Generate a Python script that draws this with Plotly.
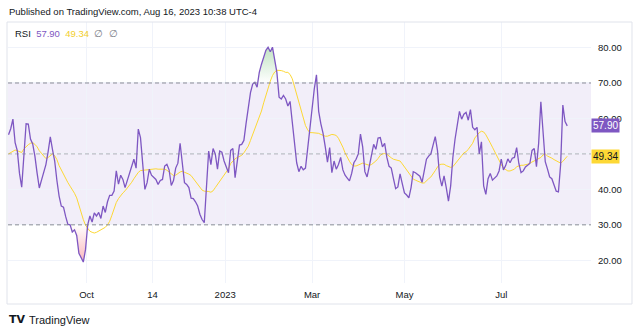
import plotly.graph_objects as go

# ---------------- data ----------------
RSI = [
    55.4, 57.1, 59.8, 53.2, 50.9, 44.5, 40.6, 50.8, 58.5, 58.4,
    54.2, 52.8, 49.4, 44.6, 40.4, 42.6, 45.1, 47.0, 50.6, 54.8,
    51.2, 48.0, 42.5, 38.1, 35.3, 35.0, 32.3, 30.1, 30.0, 28.0,
    28.6, 27.0, 22.0, 20.6, 19.5, 23.0, 30.0, 32.5, 30.8, 33.4,
    32.5, 33.5, 31.8, 35.3, 33.5, 36.5, 38.3, 38.3, 39.5, 45.2,
    41.5, 44.0, 42.8, 40.5, 42.5, 44.0, 45.8, 48.5, 46.0, 57.0,
    54.6, 46.5, 40.0, 41.9, 45.7, 44.0, 43.5, 42.8, 41.4, 42.5,
    42.8, 46.6, 47.1, 45.5, 41.1, 42.5, 46.0, 47.4, 53.0, 46.4,
    41.9, 41.4, 40.5, 37.5, 37.4, 36.5, 35.3, 33.0, 31.5, 30.6,
    42.0, 50.8, 47.0, 51.5, 50.0, 45.7, 50.8, 50.5, 48.0, 46.2,
    44.7, 51.0, 51.5, 43.3, 48.5, 52.5, 52.7, 53.8, 58.6, 63.0,
    67.3, 69.7, 70.2, 68.8, 73.0, 75.3, 77.2, 79.2, 80.1, 78.8,
    80.1, 76.5, 73.0, 66.0, 65.5, 66.5, 65.5, 63.5, 64.8, 59.0,
    52.5, 47.5, 45.0, 46.5, 45.5, 46.0, 51.5, 57.5, 63.0, 68.3,
    72.3, 62.0, 58.5, 55.8, 52.0, 47.7, 51.8, 44.7, 48.0, 45.7,
    47.0, 49.0, 45.5, 44.0, 43.2, 42.4, 44.5, 47.5, 48.5, 50.0,
    55.6, 52.0, 45.0, 43.5, 46.5, 49.5, 52.7, 51.3, 54.5, 54.6,
    52.0, 53.0, 49.0, 46.5, 46.0, 43.0, 40.2, 40.7, 44.4, 41.6,
    39.0, 38.4, 37.6, 40.5, 45.0, 44.7, 44.2, 43.7, 42.0, 45.5,
    48.5, 49.4, 50.0, 52.5, 54.9, 51.0, 43.5, 40.9, 43.8, 40.5,
    36.7, 41.0, 49.0, 54.2, 58.5, 62.0, 59.8, 61.2, 61.7, 59.5,
    62.5, 57.5, 56.8, 57.5, 50.0, 53.4, 41.0, 38.6, 43.0, 44.5,
    42.6, 43.2, 43.8, 45.2, 48.5, 45.5, 46.7, 48.6, 47.5, 48.8,
    49.0, 51.8, 47.3, 44.7, 45.2, 46.3, 46.7, 47.3, 51.0, 51.5,
    46.4, 53.0, 64.7, 56.0, 47.8, 45.8, 43.5, 43.0, 41.5, 39.5,
    39.3, 47.0, 63.8, 59.1, 57.9,
]

RSI_MA = [
    50.0, 50.4, 50.8, 51.1, 50.9, 50.6, 50.4, 51.4, 52.1, 52.6,
    53.0, 53.2, 52.7, 52.0, 50.9, 50.1, 49.3, 48.7, 49.0, 49.5,
    50.0, 49.5, 48.4, 46.7, 45.4, 44.1, 42.9, 41.9, 40.9, 40.0,
    38.9, 37.6, 35.4, 33.1, 31.5, 29.9, 28.9, 28.2, 27.9, 27.7,
    27.9, 28.3, 28.6, 29.0, 29.3, 30.0, 31.0, 32.7, 34.8, 36.3,
    37.4, 38.3, 39.0, 39.6, 40.3, 41.1, 42.0, 43.0, 43.9, 44.8,
    45.3, 45.4, 45.5, 45.6, 45.7, 45.8, 45.8, 45.8, 45.7, 45.7,
    45.7, 45.7, 45.4, 44.9, 44.2, 43.9, 44.0, 44.5, 44.9, 45.1,
    44.9, 44.6, 44.3, 43.9, 43.1, 42.3, 41.4, 40.5, 39.8, 39.5,
    39.5, 39.4, 39.2, 39.6, 40.5, 41.4, 42.3, 43.1, 44.0, 44.7,
    45.8, 47.3, 48.1, 48.6, 49.0, 49.2, 49.6, 50.3, 51.1, 52.2,
    53.8, 55.4, 56.9, 58.5, 60.3, 62.1, 64.4, 66.6, 68.7, 70.5,
    72.1, 73.1, 73.6, 73.6, 73.5, 73.3, 73.0, 73.0, 72.4, 71.2,
    68.9, 66.5, 64.3, 62.0, 59.9, 58.0, 56.8, 56.0, 56.0, 56.0,
    56.0, 55.8, 55.5, 55.2, 55.0, 55.0, 55.3, 55.5, 55.4, 55.2,
    54.4, 53.2, 51.9, 50.3, 49.0, 47.9, 47.0, 46.6, 46.6, 46.9,
    47.3, 47.4, 47.2, 47.0, 46.8, 47.0, 47.4, 48.0, 48.7, 49.6,
    50.0, 50.1, 49.9, 49.3, 48.9, 48.5, 48.4, 48.2, 48.0, 47.2,
    46.3, 45.3, 44.4, 43.6, 42.9, 42.6, 42.3, 42.0, 41.8, 41.8,
    42.5, 43.0, 43.5, 44.3, 45.3, 46.3, 47.0, 47.1, 47.1, 46.7,
    46.4, 46.2, 46.4, 47.1, 47.8, 48.7, 49.5, 50.3, 50.6, 51.3,
    52.3, 53.0, 54.5, 55.4, 56.0, 56.4, 56.2, 55.4, 54.4, 53.1,
    51.9, 50.6, 49.4, 48.4, 47.0, 46.0, 45.5, 45.2, 45.2, 45.4,
    45.7, 46.4, 46.7, 46.8, 46.8, 46.9, 47.1, 47.4, 47.7, 48.0,
    48.2, 48.5, 49.0, 49.7, 50.0, 49.4, 49.2, 48.8, 48.4, 48.0,
    47.6, 47.4, 47.9, 48.6, 49.34,
]

DAYS = list(range(len(RSI)))                 # trading-day index
TICK_DAYS = [35.5, 65.5, 98.5, 138, 180, 224]
TICK_LABELS = ["Oct", "14", "2023", "Mar", "May", "Jul"]
Y_TICKS = [20, 30, 40, 50, 60, 70, 80]
Y_HIDDEN = [50]                              # label covered by the MA value tag
UPPER, MIDDLE, LOWER = 70, 50, 30
LAST_RSI, LAST_MA = "57.90", "49.34"

# ---------------- styles ----------------
PURPLE = "#7e57c2"
YELLOW = "#fdd835"
TEXT = "#131722"
GRID = "#f0f3fa"
FONT = "Liberation Sans, Arial, sans-serif"


def clipped(values, level, above):
    """Polygon edge of the part of the series beyond a level (with crossing points)."""
    xs, ys = [], []
    for i, v in enumerate(values):
        if i > 0:
            p = values[i - 1]
            if (p - level) * (v - level) < 0:
                t = (level - p) / (v - p)
                xs.append(DAYS[i - 1] + t)
                ys.append(level)
        xs.append(DAYS[i])
        ys.append(max(v, level) if above else min(v, level))
    return xs, ys


fig = go.Figure()

# overbought fill
ox, oy = clipped(RSI, UPPER, True)
fig.add_trace(go.Scatter(x=ox, y=[UPPER] * len(ox), mode="lines",
                         line=dict(width=0), hoverinfo="skip", showlegend=False))
fig.add_trace(go.Scatter(
    x=ox, y=oy, mode="lines", line=dict(width=0), fill="tonexty",
    fillgradient=dict(type="vertical", start=UPPER, stop=81,
                      colorscale=[[0, "rgba(76,175,80,0)"], [1, "rgba(76,175,80,0.38)"]]),
    hoverinfo="skip", showlegend=False))

# oversold fill
ux, uy = clipped(RSI, LOWER, False)
fig.add_trace(go.Scatter(x=ux, y=[LOWER] * len(ux), mode="lines",
                         line=dict(width=0), hoverinfo="skip", showlegend=False))
fig.add_trace(go.Scatter(
    x=ux, y=uy, mode="lines", line=dict(width=0), fill="tonexty",
    fillgradient=dict(type="vertical", start=19, stop=LOWER,
                      colorscale=[[0, "rgba(242,54,69,0.38)"], [1, "rgba(242,54,69,0)"]]),
    hoverinfo="skip", showlegend=False))

# MA line and RSI line
fig.add_trace(go.Scatter(x=DAYS, y=RSI_MA, mode="lines",
                         line=dict(color=YELLOW, width=1), showlegend=False))
fig.add_trace(go.Scatter(x=DAYS, y=RSI, mode="lines",
                         line=dict(color=PURPLE, width=1.3), showlegend=False))

# band + level lines
fig.add_shape(type="rect", xref="paper", x0=0, x1=1, y0=LOWER, y1=UPPER,
              fillcolor="rgba(126,87,194,0.1)", line=dict(width=0), layer="below")
for lvl, col in [(UPPER, "#8a8d96"), (LOWER, "#8a8d96"), (MIDDLE, "rgba(120,123,134,0.55)")]:
    fig.add_shape(type="line", xref="paper", x0=0, x1=1, y0=lvl, y1=lvl,
                  line=dict(color=col, width=1, dash="4px,3px"), layer="above")

# frame
fig.add_shape(type="rect", xref="paper", yref="paper",
              x0=-0.0017, x1=1.0703, y0=-0.0805, y1=1.0,
              line=dict(color="#e0e3eb", width=1), fillcolor="rgba(0,0,0,0)")

ann = []
ann.append(dict(text="Published on TradingView.com, Aug 16, 2023 10:38 UTC-4",
                xref="paper", yref="paper", x=-0.0017, y=1.0, yshift=11,
                xanchor="left", yanchor="middle", showarrow=False,
                font=dict(size=9.5, color=TEXT, family=FONT)))
legend_html = (f"RSI  <span style='color:{PURPLE}'>{LAST_RSI}</span>  "
               f"<span style='color:#f2cf2c'>{LAST_MA}</span>  "
               f"<span style='color:#787b86'>∅  ∅</span>")
ann.append(dict(text=legend_html, xref="paper", yref="paper", x=0.0086, y=1.0,
                yshift=-11, xanchor="left", yanchor="middle", showarrow=False,
                font=dict(size=9.5, color=TEXT, family=FONT)))
ann.append(dict(text=LAST_RSI, xref="paper", yref="y", x=1.0, y=float(LAST_RSI),
                xanchor="left", yanchor="middle", showarrow=False, bgcolor=PURPLE,
                borderpad=1, font=dict(size=10, color="white", family=FONT)))
ann.append(dict(text=LAST_MA, xref="paper", yref="y", x=1.0, y=float(LAST_MA),
                xanchor="left", yanchor="middle", showarrow=False, bgcolor=YELLOW,
                borderpad=1, font=dict(size=10, color=TEXT, family=FONT)))
ann.append(dict(text="<b>TV</b>", xref="paper", yref="paper", x=-0.0017, y=-0.14,
                xanchor="left", yanchor="middle", showarrow=False,
                font=dict(size=11, color=TEXT, family="DejaVu Sans")))
ann.append(dict(text="TradingView", xref="paper", yref="paper", x=0.033, y=-0.14,
                xanchor="left", yanchor="middle", showarrow=False,
                font=dict(size=11, color=TEXT, family=FONT)))

fig.update_layout(
    width=640, height=333,
    margin=dict(l=8, r=49, t=22, b=50),
    paper_bgcolor="white", plot_bgcolor="white",
    showlegend=False, annotations=ann,
    xaxis=dict(range=[-0.23, 264.8], tickvals=TICK_DAYS, ticktext=TICK_LABELS,
               showgrid=True, gridcolor=GRID, zeroline=False, showline=False,
               ticks="", ticklabelstandoff=4,
               tickfont=dict(size=9.5, color=TEXT, family=FONT)),
    yaxis=dict(range=[13.6, 87.2], side="right", tickvals=Y_TICKS,
               ticktext=["" if v in Y_HIDDEN else f"{v:.2f}" for v in Y_TICKS],
               showgrid=True, gridcolor=GRID, zeroline=False, showline=False,
               ticks="", ticklabelstandoff=6,
               tickfont=dict(size=9.5, color=TEXT, family=FONT)),
)

fig.write_html("out.html")
